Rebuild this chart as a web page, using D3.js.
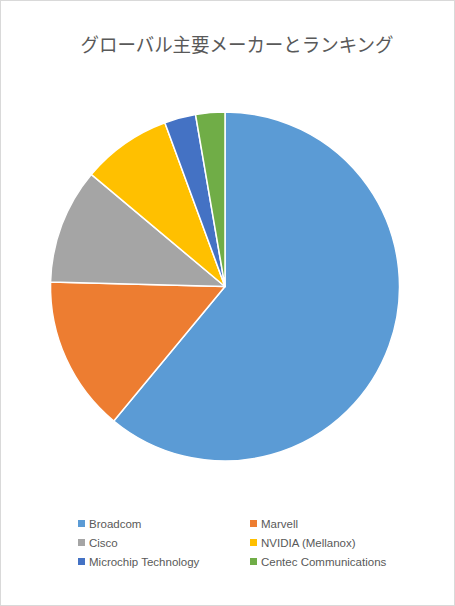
<!DOCTYPE html>
<html><head><meta charset="utf-8">
<script src="https://cdn.jsdelivr.net/npm/d3@7"></script>
<style>html,body{margin:0;padding:0;background:#fff;}</style>
</head><body>
<script>
const title = "グローバル主要メーカーとランキング";
const categories = ["Broadcom","Marvell","Cisco","NVIDIA (Mellanox)","Microchip Technology","Centec Communications"];
const shares = [61.0, 14.4, 10.7, 8.3, 2.9, 2.7];
const colors = ["#5B9BD5","#ED7D31","#A5A5A5","#FFC000","#4472C4","#70AD47"];

const W = 455, H = 606;
const svg = d3.select("body").append("svg").attr("width", W).attr("height", H);
svg.append("rect").attr("x",0.5).attr("y",0.5).attr("width",W-1).attr("height",H-1)
  .attr("fill","#fff").attr("stroke","#d9d9d9");

svg.append("text").attr("x", 237).attr("y", 52).attr("text-anchor","middle")
  .attr("font-family","'Noto Sans CJK JP', sans-serif").attr("font-size", 19)
  .attr("textLength", 313).attr("lengthAdjust","spacingAndGlyphs")
  .attr("fill","#595959").text(title);

const cx = 225, cy = 286.5, r = 174.5;
const pie = d3.pie().sort(null).value(d => d);
const arc = d3.arc().innerRadius(0).outerRadius(r);
const color = d3.scaleOrdinal().domain(categories).range(colors);
const g = svg.append("g").attr("transform", `translate(${cx},${cy})`);
g.selectAll("path").data(pie(shares)).join("path")
  .attr("d", arc).attr("fill", (d,i) => color(categories[i]))
  .attr("stroke","#fff").attr("stroke-width",1.5).attr("stroke-linejoin","round");

const leg = svg.append("g");
const items = leg.selectAll("g").data(categories).join("g")
  .attr("transform", (d,i) => `translate(${i%2===0 ? 78 : 250},${520 + Math.floor(i/2)*19})`);
items.append("rect").attr("width",7).attr("height",7).attr("fill", d => color(d));
items.append("text").attr("x", 11).attr("y", 7.5)
  .attr("font-family","'Liberation Sans', Arial, sans-serif").attr("font-size", 11.5)
  .attr("fill","#595959").text(d => d);
</script>
</body></html>
